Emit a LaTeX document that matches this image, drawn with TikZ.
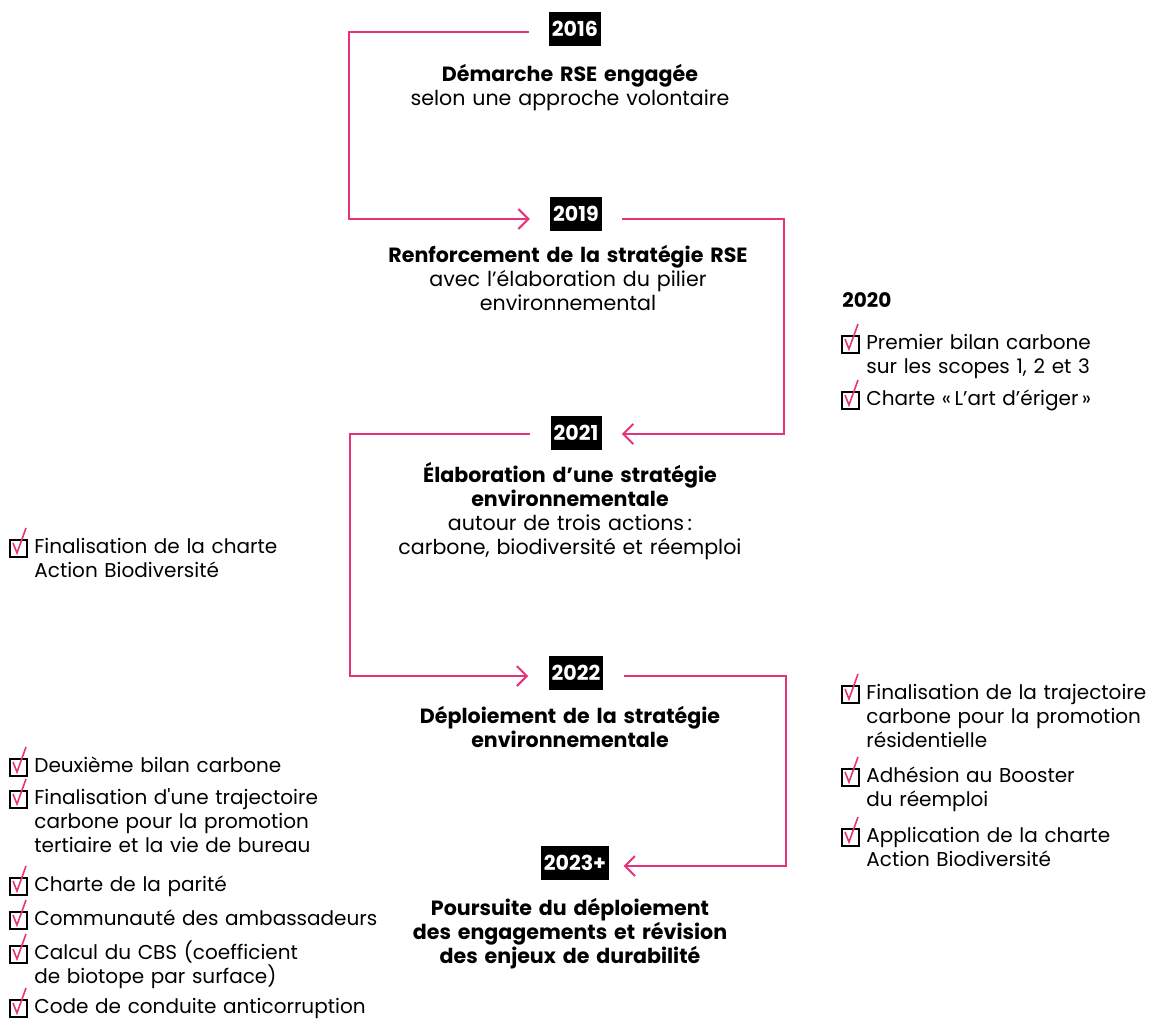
\documentclass[tikz,border=0pt]{standalone}
\usepackage{fontspec}
\setmainfont{Poppins}
\usetikzlibrary{arrows.meta, positioning}
\definecolor{rosepink}{RGB}{232,50,122}
\hyphenpenalty=10000

\begin{document}
\begin{tikzpicture}[
    x=0.5pt, y=-0.5pt,
    yr/.style={fill=black, text=white, font=\bfseries\fontsize{10.3}{12}\selectfont, minimum width=25.5pt, minimum height=17pt, inner xsep=1.5pt, inner ysep=0pt},
    milestone/.style={text width=230pt, align=center, anchor=base, inner sep=0pt, font=\fontsize{10.3}{12}\selectfont},
    item/.style={text width=150pt, align=left, anchor=base west, inner sep=0pt, font=\fontsize{10}{12}\selectfont},
    wideitem/.style={item, text width=200pt},
    link/.style={draw=rosepink, line width=1pt, -{Straight Barb[length=5pt, width=10pt]}},
    chkbox/.pic={
      \draw[line width=1pt] (-12pt,-2pt) rectangle (-3.5pt,6.5pt);
      \draw[rosepink, line width=0.8pt] (-10.5pt,5pt) -- (-8.5pt,0pt) -- (-4pt,12.5pt);
    }
]
\useasboundingbox (0,0) rectangle (1153,1019);

% years
\node[yr] (y2016) at (575,29) {2016};
\node[yr] (y2019) at (576,214) {2019};
\node[yr] (y2021) at (576,433) {2021};
\node[yr] (y2022) at (576,673) {2022};
\node[yr] (y2023) at (575,863) {2023+};

% milestones
\node[milestone] (m2016) at (570,81) {\textbf{Démarche RSE engagée}\\selon une approche volontaire};
\node[milestone] (m2019) at (568,262) {\textbf{Renforcement de la stratégie RSE}\\avec l’élaboration du pilier\\environnemental};
\node[milestone] (m2021) at (570,482) {\textbf{Élaboration d’une stratégie}\\\textbf{environnementale}\\autour de trois actions\,:\\carbone, biodiversité et réemploi};
\node[milestone] (m2022) at (570,723) {\textbf{Déploiement de la stratégie}\\\textbf{environnementale}};
\node[milestone] (m2023) at (570,915) {\textbf{Poursuite du déploiement}\\\textbf{des engagements et révision}\\\textbf{des enjeux de durabilité}};

% side lists
\node[item] (n2020) at (842,307) {\textbf{2020}};
\node[item] (r1) at (866,349) {Premier bilan carbone\\sur les scopes 1, 2 et 3};
\node[item] (r2) at (866,405) {Charte «\,L’art d’ériger\,»};
\node[wideitem] (l1) at (34,553) {Finalisation de la charte\\Action Biodiversité};
\node[item] (r3) at (866,699) {Finalisation de la trajectoire\\carbone pour la promotion\\résidentielle};
\node[item] (r4) at (866,782) {Adhésion au Booster\\du réemploi};
\node[item] (r5) at (866,842) {Application de la charte\\Action Biodiversité};
\node[wideitem] (l2) at (34,772) {Deuxième bilan carbone};
\node[wideitem] (l3) at (34,804) {Finalisation d\textquotesingle une trajectoire\\carbone pour la promotion\\tertiaire et la vie de bureau};
\node[wideitem] (l4) at (34,891) {Charte de la parité};
\node[wideitem] (l5) at (34,925) {Communauté des ambassadeurs};
\node[wideitem] (l6) at (34,959) {Calcul du CBS (coefficient\\de biotope par surface)};
\node[wideitem] (l7) at (34,1013) {Code de conduite anticorruption};

\pic at (r1.base west) {chkbox};
\pic at (r2.base west) {chkbox};
\pic at (l1.base west) {chkbox};
\pic at (r3.base west) {chkbox};
\pic at (r4.base west) {chkbox};
\pic at (r5.base west) {chkbox};
\pic at (l2.base west) {chkbox};
\pic at (l3.base west) {chkbox};
\pic at (l4.base west) {chkbox};
\pic at (l5.base west) {chkbox};
\pic at (l6.base west) {chkbox};
\pic at (l7.base west) {chkbox};

% timeline
\draw[link] ([shift={(-10pt,-1.5pt)}]y2016.west) -- ++(-90pt,0) |- ([shift={(-10pt,-2.5pt)}]y2019.west);
\draw[link] ([shift={(10pt,-2.5pt)}]y2019.east) -- ++(81pt,0) |- ([shift={(10pt,-0.5pt)}]y2021.east);
\draw[link] ([shift={(-10pt,-0.5pt)}]y2021.west) -- ++(-90pt,0) |- ([shift={(-10pt,-1.5pt)}]y2022.west);
\draw[link] ([shift={(10pt,-1.5pt)}]y2022.east) -- ++(81pt,0) |- ([shift={(7pt,-1.5pt)}]y2023.east);
\end{tikzpicture}
\end{document}
